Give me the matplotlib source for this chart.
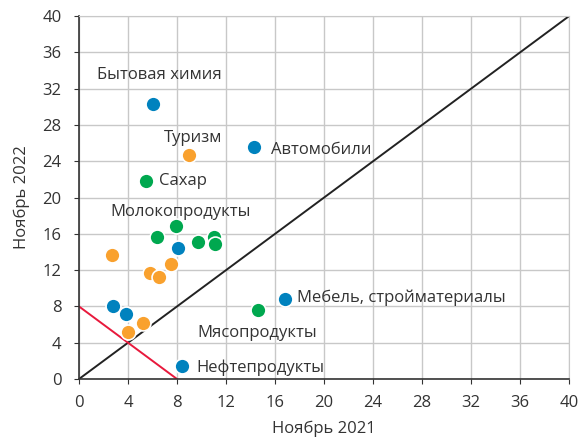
import matplotlib
matplotlib.use("Agg")
import matplotlib.pyplot as plt

plt.rcParams['font.family'] = ['Open Sans', 'DejaVu Sans']

# Ноябрь 2021 vs Ноябрь 2022
blue_x = [6.0, 14.3, 8.1, 2.8, 3.8, 16.8, 8.4]
blue_y = [30.3, 25.6, 14.4, 8.0, 7.2, 8.8, 1.4]

green_x = [5.5, 7.9, 6.4, 9.7, 11.0, 11.1, 14.6]
green_y = [21.8, 16.9, 15.7, 15.1, 15.7, 14.9, 7.6]

orange_x = [9.0, 2.7, 7.5, 5.8, 6.5, 5.2, 4.0]
orange_y = [24.75, 13.7, 12.7, 11.7, 11.3, 6.2, 5.2]

labels = ["Бытовая химия", "Туризм", "Автомобили", "Сахар", "Молокопродукты",
          "Мебель, стройматериалы", "Мясопродукты", "Нефтепродукты"]
label_x = [6.6, 9.3, 15.7, 6.5, 8.3, 17.8, 9.7, 9.6]
label_y = [33.5, 26.6, 25.2, 21.8, 18.45, 8.95, 5.1, 1.2]
label_ha = ["center", "center", "left", "left", "center", "left", "left", "left"]

fig = plt.figure(figsize=(5.87, 4.37), dpi=100)
ax = fig.add_axes([0.1346, 0.1327, 0.9693 - 0.1346, 0.963 - 0.1327])

ax.set_xlim(0, 40)
ax.set_ylim(0, 40)
ax.set_xticks(range(0, 41, 4))
ax.set_yticks(range(0, 41, 4))
ax.grid(True, color="#c8c8c8", linewidth=1)
ax.set_axisbelow(True)

for s in ["top", "right"]:
    ax.spines[s].set_color("#c8c8c8")
for s in ["left", "bottom"]:
    ax.spines[s].set_color("#333333")
    ax.spines[s].set_linewidth(1.2)
ax.tick_params(length=3.5, color="#333333", labelsize=12, labelcolor="#333333")
ax.tick_params(axis="x", pad=8)
ax.tick_params(axis="y", pad=9)

ax.plot([0, 40], [0, 40], color="#222222", linewidth=1.4, zorder=2)
ax.plot([0, 8], [8, 0], color="#e8193c", linewidth=1.4, zorder=2)

mk = dict(s=115, edgecolors="white", linewidths=1.2, zorder=3, clip_on=False)
ax.scatter(orange_x, orange_y, color="#f9a12e", **mk)
ax.scatter(green_x, green_y, color="#00a84f", **mk)
ax.scatter(blue_x, blue_y, color="#0082be", **mk)

for t, x, y, ha in zip(labels, label_x, label_y, label_ha):
    ax.text(x, y, t, ha=ha, va="center", fontsize=12, color="#333333", zorder=4)

ax.set_xlabel("Ноябрь 2021", fontsize=12, color="#333333", labelpad=7)
ax.set_ylabel("Ноябрь 2022", fontsize=12, color="#333333", labelpad=9)

fig.savefig("out.png", dpi=100)
